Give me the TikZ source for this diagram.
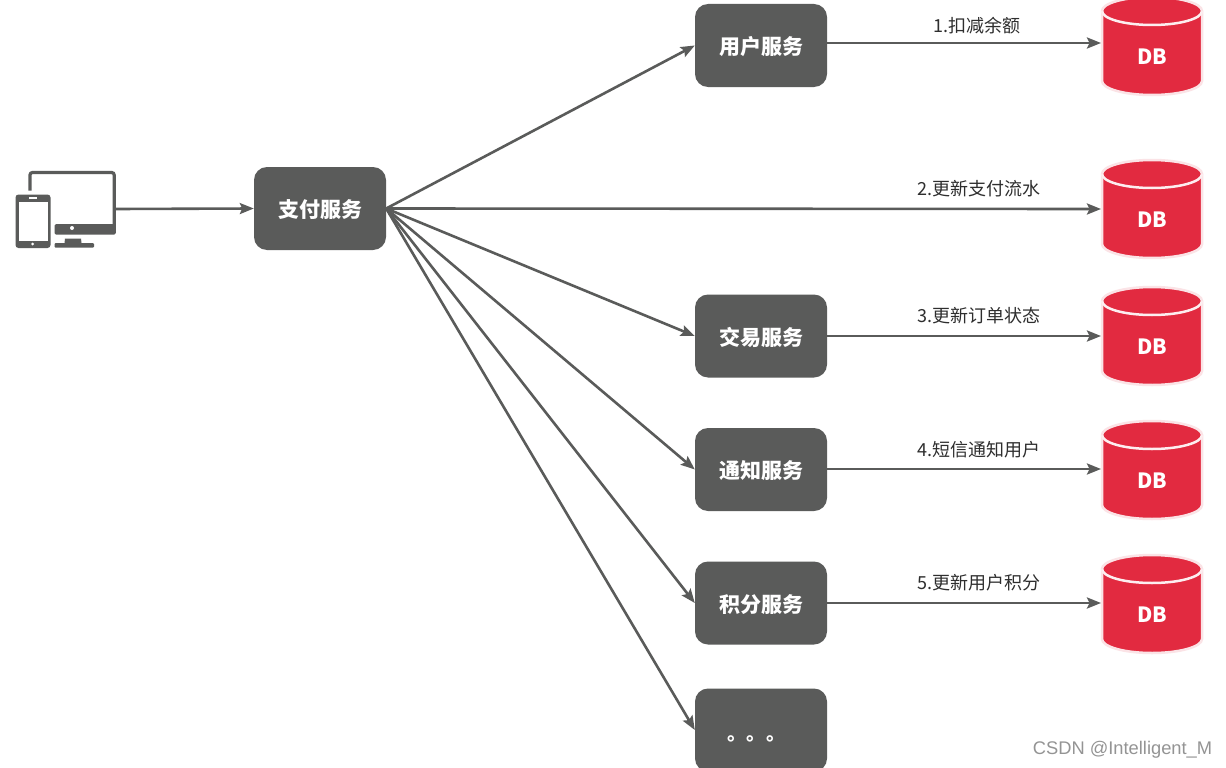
\documentclass[tikz,border=0pt]{standalone}
\usepackage{fontspec}
\setmainfont{Noto Sans CJK SC}
\newfontfamily\wmfont{Liberation Sans}
\usetikzlibrary{arrows.meta}
\definecolor{svc}{HTML}{5A5B5A}
\definecolor{dbred}{HTML}{E22A40}
\definecolor{dbhalo}{HTML}{FBE3E6}
\tikzset{
  x=1pt,y=-1pt,
  svcbox/.style={draw=none,fill=svc,rounded corners=13pt,minimum width=132pt,minimum height=83pt,inner sep=0pt,text=white,text height=19pt,text depth=1pt,font=\fontsize{21}{24}\selectfont\bfseries},
  dbnode/.style={inner sep=0pt,text=white,font=\fontsize{21}{24}\selectfont\bfseries},
  flow/.style={draw=svc,line width=2.6pt,-{Stealth[length=14pt,width=11pt,inset=2.5pt]}},
  steplabel/.style={inner sep=0pt,text=black!82,font=\fontsize{18}{20}\selectfont},
}
% #1 node name, #2 top y of the cylinder, #3 y of the incoming arrow
\newcommand{\dbcyl}[3]{%
  \begin{scope}[shift={(1152,#2)}]
    \path[fill=dbred,draw=dbhalo,line width=2.5pt]
      (-50,14) arc[start angle=180,end angle=360,x radius=50,y radius=14]
      -- (50,84) arc[start angle=0,end angle=180,x radius=50,y radius=14] -- cycle;
    \draw[white!92!dbred,line width=2.5pt] (-50,14) arc[start angle=180,end angle=0,x radius=50,y radius=14];
  \end{scope}
  \node[dbnode] (#1) at (1152,#2+60) {DB};
  \coordinate (#1in) at (1101,#3);
}
\begin{document}
\begin{tikzpicture}
\useasboundingbox[fill=white] (0,0) rectangle (1226,768);
\begin{scope}
\clip (0,0) rectangle (1226,768);
% device icon
\begin{scope}[svc]
  \draw[line width=3.2pt,rounded corners=2.5pt,line cap=butt] (30,190.5) -- (30,172.5) -- (114.2,172.5) -- (114.2,226);
  \fill[rounded corners=1.5pt] (54.5,224) -- (115.8,224) -- (115.8,234.5) -- (54.5,234.5) -- cycle;
  \fill[white] (72,228) circle[radius=2pt];
  \fill (64.5,243) -- (65,238.5) -- (81,238.5) -- (81.5,243) -- cycle;
  \fill[rounded corners=1pt] (54.5,243) rectangle (94,247.5);
  \fill[rounded corners=3pt] (15.5,194.5) rectangle (50.5,248);
  \fill[white] (18.5,201.5) rectangle (47.5,240.5);
  \fill[white] (29,197.4) rectangle (37,198.9);
  \fill[white] (32.7,244) circle[radius=1.5pt];
\end{scope}
\coordinate (device) at (116,209);
\dbcyl{dba}{-3}{43}
\dbcyl{dbb}{160}{209}
\dbcyl{dbc}{287}{336}
\dbcyl{dbd}{421}{469}
\dbcyl{dbe}{555}{603}
\node[svcbox] (pay) at (320,208.5) {支付服务};
\node[svcbox] (s1) at (761,45.5) {用户服务};
\node[svcbox] (s3) at (761,336) {交易服务};
\node[svcbox] (s4) at (761,469.5) {通知服务};
\node[svcbox] (s5) at (761,603) {积分服务};
\node[svcbox] (s6) at (761,730) {};
\node[text=white,inner sep=0pt,font=\fontsize{19.5}{22}\selectfont\bfseries] (dots) at (756.5,739) {。。。};
\draw[flow] (device) -- (pay.west);
\draw[flow] (pay.east) -- (s1.west);
\draw[flow] (pay.east) -- (dbbin);
\draw[flow] (pay.east) -- (s3.west);
\draw[flow] (pay.east) -- (s4.west);
\draw[flow] (pay.east) -- (s5.west);
\draw[flow] (pay.east) -- (s6.west);
\draw[flow] (s1.east |- dbain) -- (dbain);
\draw[flow] (s3.east |- dbcin) -- (dbcin);
\draw[flow] (s4.east |- dbdin) -- (dbdin);
\draw[flow] (s5.east |- dbein) -- (dbein);
\node[steplabel] (l1) at (977,25.7) {1.扣减余额};
\node[steplabel] (l2) at (979,188.7) {2.更新支付流水};
\node[steplabel] (l3) at (979,315.7) {3.更新订单状态};
\node[steplabel] (l4) at (979,449.7) {4.短信通知用户};
\node[steplabel] (l5) at (979,582.7) {5.更新用户积分};
\node[inner sep=0pt,text=black!42,font=\wmfont\fontsize{18.3}{20}\selectfont] (wm) at (1122.5,749.5) {CSDN @Intelligent\_M};
\end{scope}
\end{tikzpicture}
\end{document}
